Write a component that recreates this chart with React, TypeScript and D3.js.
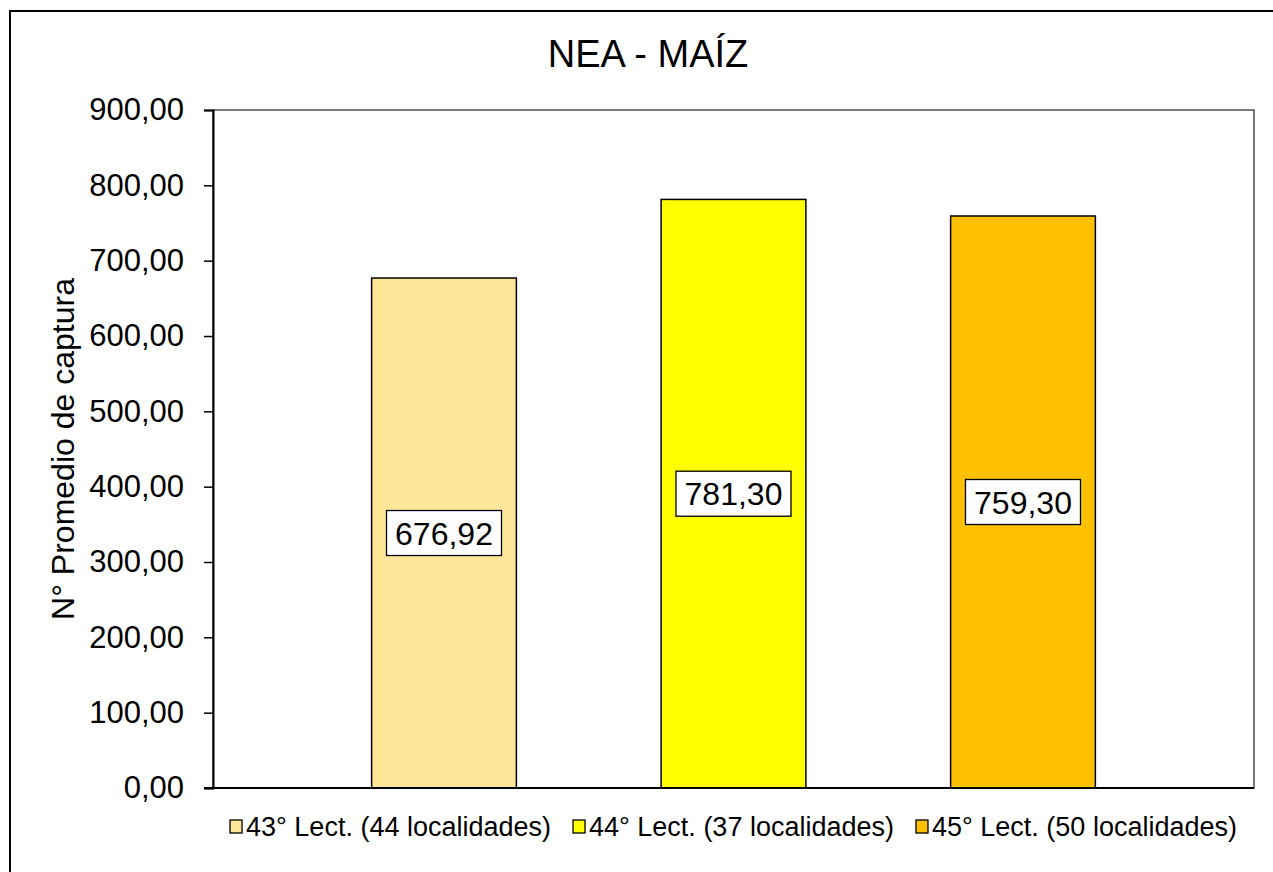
import React, { useEffect, useRef } from 'react';
import * as d3 from 'd3';

const title = 'NEA - MAÍZ';
const yTitle = 'N° Promedio de captura';
const seriesNames = [
  '43° Lect. (44 localidades)',
  '44° Lect. (37 localidades)',
  '45° Lect. (50 localidades)'
];
const seriesValues = [676.92, 781.3, 759.3];
const seriesColors = ['#FFE699', '#FFFF00', '#FFC000'];
const yTicks = [0, 100, 200, 300, 400, 500, 600, 700, 800, 900];

const FONT = '"Liberation Sans", Arial, Helvetica, sans-serif';

const App: React.FC = () => {
  const svgRef = useRef<SVGSVGElement>(null);

  useEffect(() => {
    if (!svgRef.current) return;
    const width = 1273;
    const height = 872;
    const svg = d3.select(svgRef.current);
    svg.selectAll('*').remove();
    svg.attr('width', width).attr('height', height);

    // chart background + outer border (cut off at right / bottom)
    svg.append('rect')
      .attr('x', 10).attr('y', 11)
      .attr('width', width + 20).attr('height', height + 20)
      .attr('fill', '#fff')
      .attr('stroke', '#000')
      .attr('stroke-width', 2);

    const plot = { left: 213, right: 1254, top: 110, bottom: 788 };

    const locale = d3.formatLocale({ decimal: ',', thousands: '.', grouping: [3], currency: ['', ''] });
    const fmt = locale.format('.2f');

    const x = d3.scaleBand<string>()
      .domain(seriesNames)
      .range([plot.left, plot.right])
      .paddingInner(0.5)
      .paddingOuter(0.548);

    const y = d3.scaleLinear()
      .domain([0, 900])
      .range([plot.bottom, plot.top]);

    // title
    svg.append('text')
      .attr('x', 648).attr('y', 67)
      .attr('text-anchor', 'middle')
      .style('font-family', FONT)
      .style('font-size', '38px')
      .text(title);

    // plot area border
    svg.append('rect')
      .attr('x', plot.left).attr('y', plot.top)
      .attr('width', plot.right - plot.left)
      .attr('height', plot.bottom - plot.top)
      .attr('fill', 'none')
      .attr('stroke', '#222')
      .attr('stroke-width', 1.2);

    // bars
    seriesNames.forEach((name, i) => {
      svg.append('rect')
        .attr('x', x(name)!)
        .attr('y', y(seriesValues[i]))
        .attr('width', x.bandwidth())
        .attr('height', y(0) - y(seriesValues[i]))
        .attr('fill', seriesColors[i])
        .attr('stroke', '#000')
        .attr('stroke-width', 1.5);
    });

    // y axis
    const yAxis = d3.axisLeft(y)
      .tickValues(yTicks)
      .tickSize(9)
      .tickPadding(20)
      .tickFormat(d => fmt(d as number));
    const ga = svg.append('g')
      .attr('transform', `translate(${plot.left},0)`)
      .call(yAxis);
    ga.select('.domain').attr('stroke', '#000').attr('stroke-width', 2);
    ga.selectAll('.tick line').attr('stroke', '#000').attr('stroke-width', 1.5);
    ga.selectAll('.tick text')
      .style('font-family', FONT)
      .style('font-size', '31px')
      .attr('fill', '#000');

    // x axis baseline
    svg.append('line')
      .attr('x1', plot.left - 9).attr('x2', plot.right)
      .attr('y1', y(0)).attr('y2', y(0))
      .attr('stroke', '#000')
      .attr('stroke-width', 2);

    // y title
    svg.append('text')
      .attr('transform', `translate(74,${(plot.top + plot.bottom) / 2}) rotate(-90)`)
      .attr('text-anchor', 'middle')
      .style('font-family', FONT)
      .style('font-size', '32px')
      .text(yTitle);

    // data labels
    seriesNames.forEach((name, i) => {
      const cx = x(name)! + x.bandwidth() / 2;
      const cy = y(seriesValues[i] / 2);
      const g = svg.append('g');
      g.append('rect')
        .attr('x', cx - 57.5).attr('y', cy - 22.5)
        .attr('width', 115).attr('height', 45)
        .attr('fill', '#fff')
        .attr('stroke', '#000')
        .attr('stroke-width', 1.3);
      g.append('text')
        .attr('x', cx).attr('y', cy)
        .attr('dy', '0.36em')
        .attr('text-anchor', 'middle')
        .style('font-family', FONT)
        .style('font-size', '32px')
        .text(fmt(seriesValues[i]));
    });

    // legend
    const legend = svg.append('g');
    const sw = 12;
    const gapText = 4;
    const gapItem = 22;
    let cursor = 0;
    seriesNames.forEach((name, i) => {
      const g = legend.append('g');
      g.append('rect')
        .attr('x', 0).attr('y', 820)
        .attr('width', sw).attr('height', 13)
        .attr('fill', seriesColors[i])
        .attr('stroke', '#000')
        .attr('stroke-width', 1.3);
      const t = g.append('text')
        .attr('x', sw + gapText).attr('y', 836)
        .style('font-family', FONT)
        .style('font-size', '27px')
        .text(name);
      const w = sw + gapText + (t.node() as SVGTextElement).getComputedTextLength();
      g.attr('transform', `translate(${cursor},0)`);
      cursor += w + gapItem;
    });
    const total = cursor - gapItem;
    legend.attr('transform', `translate(${(plot.left + plot.right) / 2 - total / 2},0)`);
  }, []);

  return (
    <svg
      ref={svgRef}
      style={{ position: 'absolute', left: 0, top: 0, display: 'block', background: '#fff' }}
    />
  );
};

export default App;
